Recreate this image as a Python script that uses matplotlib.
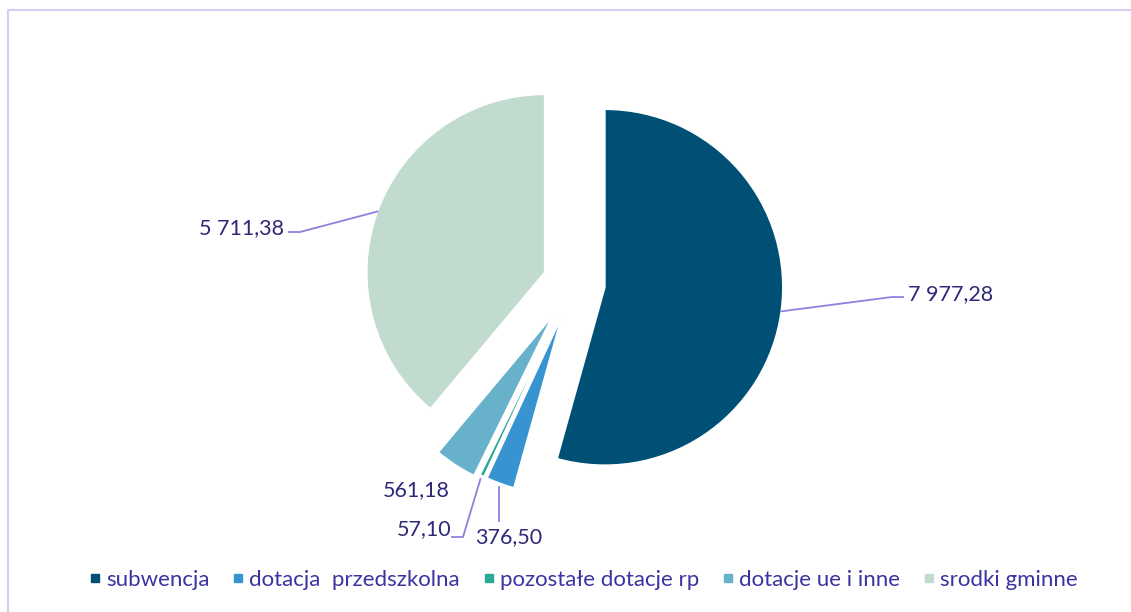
import matplotlib
matplotlib.use("Agg")
import matplotlib.pyplot as plt
import numpy as np
from matplotlib.lines import Line2D

categories = ["subwencja", "dotacja  przedszkolna", "pozostałe dotacje rp", "dotacje ue i inne", "srodki gminne"]
values = [7977.28, 376.50, 57.10, 561.18, 5711.38]
value_labels = ["7 977,28", "376,50", "57,10", "561,18", "5 711,38"]
colors = ["#004f74", "#3894d1", "#2aa89a", "#67b2ca", "#c1dbcf"]
explode_frac = [0.175, 0.2, 0.2, 0.22, 0.175]

W, H = 1131, 612
R = 178
fig = plt.figure(figsize=(W / 100, H / 100), dpi=100)
ax = fig.add_axes([0, 0, 1, 1])

FONT = "Lato"
TXT = "#2e2878"
LINE = "#8c82dc"

wedges, _ = ax.pie(values, colors=colors, explode=[e * R for e in explode_frac], startangle=90,
                   counterclock=False, radius=R, center=(574, H - 283),
                   wedgeprops=dict(linewidth=1.2, edgecolor="white"), frame=True)
ax.set_xlim(0, W)
ax.set_ylim(0, H)
ax.set_aspect("equal")
ax.axis("off")

def mid_point(w, rfrac=1.0):
    ang = np.deg2rad((w.theta1 + w.theta2) / 2)
    cx, cy = w.center
    return cx + w.r * rfrac * np.cos(ang), cy + w.r * rfrac * np.sin(ang)

FS = 15.5
# subwencja
x0, y0 = mid_point(wedges[0])
ax.plot([x0, 892, 903], [y0, H - 297, H - 297], color=LINE, lw=1.3)
ax.text(908, H - 294, value_labels[0], fontsize=FS, family=FONT, color=TXT, va="center", ha="left")

# srodki gminne
x4, y4 = mid_point(wedges[4])
ax.plot([x4, 300, 289], [y4, H - 232, H - 232], color=LINE, lw=1.3)
ax.text(284, H - 228, value_labels[4], fontsize=FS, family=FONT, color=TXT, va="center", ha="right")

# dotacja przedszkolna
x1, y1 = mid_point(wedges[1], 1.02)
ax.plot([x1, x1], [y1, H - 521], color=LINE, lw=1.3)
ax.text(509, H - 537, value_labels[1], fontsize=FS, family=FONT, color=TXT, va="center", ha="center")

# pozostałe dotacje rp
x2, y2 = mid_point(wedges[2], 1.02)
ax.plot([x2, 463, 452], [y2, H - 537, H - 537], color=LINE, lw=1.3)
ax.text(451, H - 529, value_labels[2], fontsize=FS, family=FONT, color=TXT, va="center", ha="right")

# dotacje ue i inne
ax.text(450, H - 490, value_labels[3], fontsize=FS, family=FONT, color=TXT, va="center", ha="right")

# border
ax.plot([8, 8, W], [0, H - 10, H - 10], color="#d4d0f0", lw=1.5)

handles = [Line2D([0], [0], marker="s", linestyle="none", markersize=6,
                  markerfacecolor=c, markeredgecolor=c) for c in colors]
leg = ax.legend(handles, categories, loc="center", bbox_to_anchor=(583 / W, 1 - 580 / H),
                ncol=5, frameon=False, handlelength=0.6, handletextpad=0.2, columnspacing=1.0,
                prop=dict(family=FONT, size=16))
for t in leg.get_texts():
    t.set_color("#3a33a0")

fig.savefig("out.png", dpi=100)
